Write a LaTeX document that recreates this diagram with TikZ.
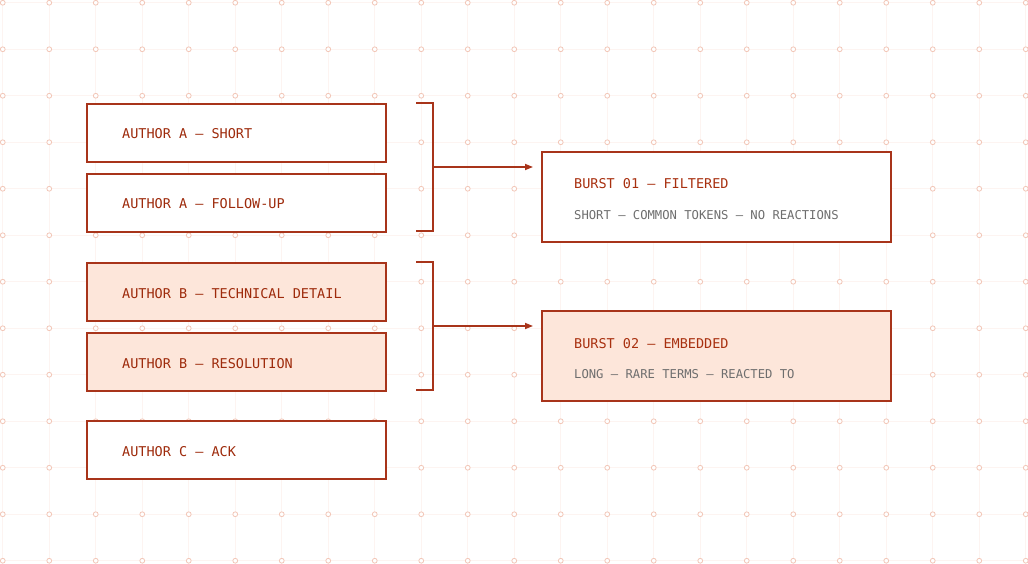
\documentclass[tikz,border=0pt]{standalone}
\usepackage{fontspec}
\setmonofont{DejaVu Sans Mono}
\usetikzlibrary{arrows.meta,positioning}
\definecolor{strokec}{HTML}{A8341A}
\definecolor{textc}{HTML}{9E2B0C}
\definecolor{titlec}{HTML}{A8300F}
\definecolor{subc}{HTML}{6E6E6E}
\definecolor{fillc}{HTML}{FDE6DA}
\definecolor{gridc}{HTML}{FDF4F1}
\definecolor{dotc}{HTML}{F2C6B7}
\tikzset{
  msgbox/.style={draw=strokec,line width=1.8pt,fill=white,minimum width=299pt,minimum height=58pt,anchor=north west,inner sep=0pt},
  msgboxf/.style={msgbox,fill=fillc},
  burstbox/.style={draw=strokec,line width=1.8pt,fill=white,minimum width=349pt,minimum height=90pt,anchor=north west,inner sep=0pt},
  burstboxf/.style={burstbox,fill=fillc},
  msgtext/.style={anchor=base west,inner sep=0pt,font=\ttfamily\fontsize{13.5}{16}\selectfont,text=textc},
  titletext/.style={anchor=base west,inner sep=0pt,font=\ttfamily\fontsize{13.5}{16}\selectfont,text=titlec},
  subtext/.style={anchor=base west,inner sep=0pt,font=\ttfamily\fontsize{12.2}{15}\selectfont,text=subc},
  bracketline/.style={draw=strokec,line width=1.6pt},
  arrowline/.style={draw=strokec,line width=1.6pt,-{Triangle[length=8pt,width=6pt]},shorten >=8pt},
  gridline/.style={draw=gridc,line width=0.8pt},
  griddot/.style={draw=dotc,line width=0.8pt,fill=white}
}
\begin{document}
\begin{tikzpicture}[x=1pt,y=-1pt]
\useasboundingbox (0,0) rectangle (1028,564);
\fill[white] (0,0) rectangle (1028,564);
% grid
\foreach \i in {0,...,22} {
  \draw[gridline] ({2.75+46.5*\i},0) -- ({2.75+46.5*\i},564);
}
\foreach \j in {0,...,12} {
  \draw[gridline] (0,{2.75+46.5*\j}) -- (1028,{2.75+46.5*\j});
}
\foreach \i in {0,...,22} {
  \foreach \j in {0,...,12} {
    \draw[griddot] ({2.75+46.5*\i},{2.75+46.5*\j}) circle (2.4pt);
  }
}
% message boxes
\node[msgbox]  (a1) at (86,103) {};
\node[msgbox]  (a2) at (86,173) {};
\node[msgboxf] (b1) at (86,262) {};
\node[msgboxf] (b2) at (86,332) {};
\node[msgbox]  (c1) at (86,420) {};
\node[msgtext] (ta1) at (122,139) {AUTHOR A — SHORT};
\node[msgtext] (ta2) at (122,209) {AUTHOR A — FOLLOW-UP};
\node[msgtext] (tb1) at (122,298) {AUTHOR B — TECHNICAL DETAIL};
\node[msgtext] (tb2) at (122,368) {AUTHOR B — RESOLUTION};
\node[msgtext] (tc1) at (122,456) {AUTHOR C — ACK};
% burst boxes
\node[burstbox]  (u1) at (541,151) {};
\node[burstboxf] (u2) at (541,310) {};
\node[titletext] (tu1) at (574,189) {BURST 01 — FILTERED};
\node[subtext]   (su1) at (574,219) {SHORT — COMMON TOKENS — NO REACTIONS};
\node[titletext] (tu2) at (574,348) {BURST 02 — EMBEDDED};
\node[subtext]   (su2) at (574,378) {LONG — RARE TERMS — REACTED TO};
% brackets
\coordinate (k1t) at (416,103);
\coordinate (k1b) at (416,231);
\coordinate (k1m) at (433,167);
\draw[bracketline] (k1t) -- (433,103) -- (433,231) -- (k1b);
\draw[arrowline] (k1m) -- (k1m -| u1.west);
\coordinate (k2t) at (416,262);
\coordinate (k2b) at (416,390);
\coordinate (k2m) at (433,326);
\draw[bracketline] (k2t) -- (433,262) -- (433,390) -- (k2b);
\draw[arrowline] (k2m) -- (k2m -| u2.west);
\end{tikzpicture}
\end{document}
